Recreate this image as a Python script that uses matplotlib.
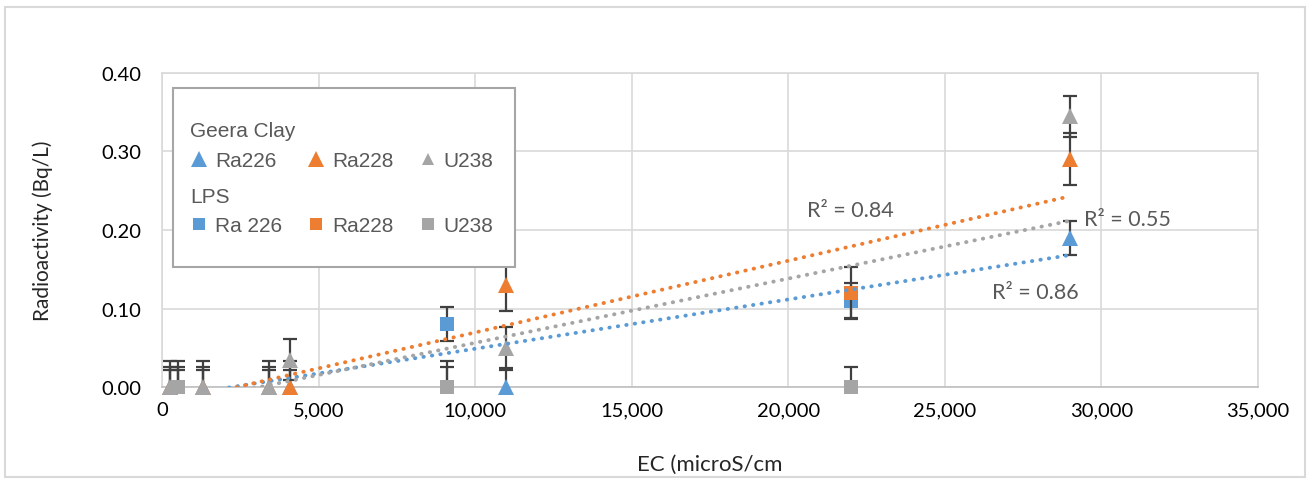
import numpy as np
import matplotlib
matplotlib.use('Agg')
import matplotlib.pyplot as plt
from matplotlib.lines import Line2D
from matplotlib.patches import Rectangle
from matplotlib.text import Text
from matplotlib.legend_handler import HandlerBase
from matplotlib.ticker import FuncFormatter

# Geera Clay (triangles)
geera_ec = [250, 1300, 3400, 4100, 11000, 29000]
geera_ra226 = [0, 0, 0, 0, 0, 0.19]
geera_ra228 = [0, 0, 0, 0, 0.13, 0.29]
geera_u238 = [0, 0, 0, 0.035, 0.05, 0.345]

# LPS (squares)
lps_ec = [500, 9100, 22000]
lps_ra226 = [0, 0.08, 0.11]
lps_ra228 = [0, 0, 0.12]
lps_u238 = [0, 0, 0]

# error bar half widths per nuclide
err_ra226 = 0.022
err_ra228 = 0.033
err_u238 = 0.026

r2_labels = ['R² = 0.86', 'R² = 0.84', 'R² = 0.55']

BLUE = '#5B9BD5'
ORANGE = '#ED7D31'
GRAY = '#A5A5A5'
EBAR = '#404040'
TXT = '#595959'

plt.rcParams['font.family'] = ['Lato', 'DejaVu Sans']

fig = plt.figure(figsize=(13.1, 4.81), dpi=100)
ax = fig.add_axes([0.1237, 0.1933, 0.8366, 0.6529])

series = [
    (geera_ec, geera_ra226, err_ra226, BLUE, '^', 12),
    (geera_ec, geera_ra228, err_ra228, ORANGE, '^', 12),
    (geera_ec, geera_u238, err_u238, GRAY, '^', 12),
    (lps_ec, lps_ra226, err_ra226, BLUE, 's', 10),
    (lps_ec, lps_ra228, err_ra228, ORANGE, 's', 10),
    (lps_ec, lps_u238, err_u238, GRAY, 's', 10),
]
for i, (x, y, e, c, m, ms) in enumerate(series):
    ax.errorbar(x, y, yerr=e, fmt='none', ecolor=EBAR, elinewidth=1.6,
                capsize=5, capthick=1.6, zorder=3 + i)
    ax.plot(x, y, linestyle='none', marker=m, markersize=ms, color=c,
            markeredgewidth=0, clip_on=False, zorder=3 + i)

# linear trendlines fitted on both soils together
all_ec = np.array(geera_ec + lps_ec, dtype=float)
trends = [
    (geera_ra226 + lps_ra226, BLUE),
    (geera_ra228 + lps_ra228, ORANGE),
    (geera_u238 + lps_u238, GRAY),
]
xs = np.array([all_ec.min(), all_ec.max()])
for vals, c in trends:
    k, b = np.polyfit(all_ec, np.array(vals), 1)
    ax.plot(xs, k * xs + b, color=c, linewidth=2.8,
            linestyle=(0, (0.1, 2.1)), dash_capstyle='round', zorder=12)

ax.text(26500, 0.121, r2_labels[0], fontsize=15.5, color=TXT, va='center')
ax.text(20600, 0.225, r2_labels[1], fontsize=15.5, color=TXT, va='center')
ax.text(29450, 0.214, r2_labels[2], fontsize=15.5, color=TXT, va='center')

ax.set_xlim(0, 35000)
ax.set_ylim(0, 0.40)
ax.set_xticks(np.arange(0, 35001, 5000))
ax.set_yticks(np.arange(0, 0.401, 0.1))
ax.xaxis.set_major_formatter(FuncFormatter(lambda v, p: f'{v:,.0f}'))
ax.yaxis.set_major_formatter(FuncFormatter(lambda v, p: f'{v:.2f}'))
ax.tick_params(length=0, labelsize=14.5, labelcolor='black')
ax.tick_params(axis='x', pad=10)
ax.tick_params(axis='y', pad=15)
ax.grid(True, color='#D9D9D9', linewidth=1.2)
ax.set_axisbelow(True)
for s in ax.spines.values():
    s.set_color('#D9D9D9')
    s.set_linewidth(1.2)
ax.spines['bottom'].set_color('#BFBFBF')

ax.set_xlabel('EC (microS/cm', fontsize=16, color='#262626', labelpad=26)
ax.set_ylabel('Radioactivity (Bq/L)', fontsize=15, color='#262626', labelpad=35)


# group headings of the legend sit where the markers start
class HeadingHandler(HandlerBase):
    def create_artists(self, legend, orig_handle, xdescent, ydescent,
                       width, height, fontsize, trans):
        t = Text(-xdescent, -ydescent + height / 2 - 3.6, orig_handle.get_label(),
                 fontproperties=legend.prop, color=TXT, va='center')
        t.set_transform(trans)
        return [t]


lfont = {'family': ['Liberation Sans', 'DejaVu Sans'], 'size': 15}
blank = Line2D([], [], ls='none')
head1 = Line2D([], [], ls='none', label='Geera Clay')
head2 = Line2D([], [], ls='none', label='LPS')
handles = [
    head1,
    Line2D([], [], ls='none', marker='^', ms=12, color=BLUE, mew=0),
    head2,
    Line2D([], [], ls='none', marker='s', ms=9, color=BLUE, mew=0),
    blank,
    Line2D([], [], ls='none', marker='^', ms=12, color=ORANGE, mew=0),
    blank,
    Line2D([], [], ls='none', marker='s', ms=9, color=ORANGE, mew=0),
    blank,
    Line2D([], [], ls='none', marker='^', ms=9, color=GRAY, mew=0),
    blank,
    Line2D([], [], ls='none', marker='s', ms=8, color=GRAY, mew=0),
]
labels = [' ', 'Ra226', ' ', 'Ra 226',
          ' ', 'Ra228', ' ', 'Ra228',
          ' ', 'U238', ' ', 'U238']
leg = ax.legend(handles, labels, ncol=3, frameon=False, loc='upper left',
                bbox_to_anchor=(0.016, 0.889), borderpad=0,
                handlelength=0.9, handletextpad=0.3, columnspacing=1.2,
                labelspacing=0.65, prop=lfont, labelcolor=TXT,
                handler_map={head1: HeadingHandler(), head2: HeadingHandler()})
leg.set_zorder(21)

ax.add_patch(Rectangle((0.010, 0.382), 0.312, 0.570, transform=ax.transAxes,
                       facecolor='white', edgecolor='#A6A6A6', linewidth=1.5,
                       zorder=20))

fig.patches.append(Rectangle((0.004, 0.006), 0.992, 0.978,
                             transform=fig.transFigure, fill=False,
                             edgecolor='#D9D9D9', linewidth=1.5))

fig.savefig('out.png', dpi=100)
